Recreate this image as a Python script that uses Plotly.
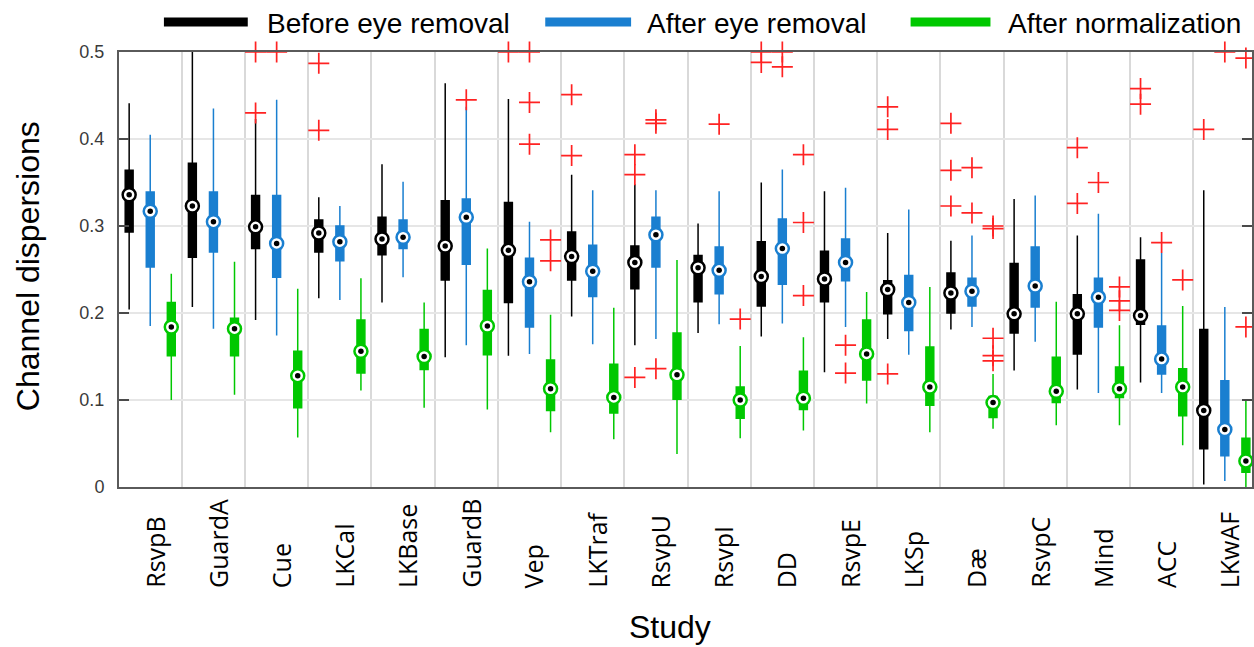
import plotly.graph_objects as go

# ---------------------------------------------------------------- data
studies = ["RsvpB", "GuardA", "Cue", "LKCal", "LKBase", "GuardB", "Vep", "LKTraf", "RsvpU",
           "RsvpI", "DD", "RsvpE", "LKSp", "Dæ", "RsvpC", "Mind", "ACC", "LKwAF"]

series_names = ["Before eye removal", "After eye removal", "After normalization"]

# Before eye removal
before_hi = [0.441, 0.500, 0.423, 0.333, 0.371, 0.464, 0.446, 0.359, 0.348, 0.303, 0.350, 0.340, 0.292, 0.283, 0.331, 0.289, 0.287, 0.341]
before_q3 = [0.364, 0.372, 0.335, 0.307, 0.310, 0.329, 0.327, 0.293, 0.277, 0.266, 0.282, 0.271, 0.237, 0.246, 0.257, 0.221, 0.261, 0.181]
before_med = [0.336, 0.323, 0.299, 0.292, 0.285, 0.277, 0.272, 0.265, 0.258, 0.252, 0.242, 0.239, 0.227, 0.223, 0.199, 0.199, 0.197, 0.088]
before_q1 = [0.293, 0.264, 0.274, 0.270, 0.267, 0.238, 0.212, 0.238, 0.228, 0.213, 0.208, 0.213, 0.199, 0.200, 0.177, 0.153, 0.187, 0.044]
before_lo = [0.204, 0.207, 0.192, 0.217, 0.212, 0.149, 0.151, 0.196, 0.163, 0.177, 0.173, 0.132, 0.170, 0.181, 0.134, 0.112, 0.120, 0.003]
before_out = [[], [], [0.500, 0.430], [0.487, 0.410], [], [], [0.500], [0.451, 0.381], [0.382, 0.359, 0.126],
              [], [0.500, 0.488], [], [0.437, 0.411, 0.130], [0.418, 0.364, 0.323], [], [0.390, 0.326],
              [0.458, 0.440], [0.411]]

# After eye removal
eye_hi = [0.405, 0.435, 0.445, 0.323, 0.351, 0.437, 0.305, 0.341, 0.341, 0.340, 0.365, 0.344, 0.319, 0.289, 0.335, 0.314, 0.269, 0.207]
eye_q3 = [0.339, 0.339, 0.335, 0.300, 0.307, 0.331, 0.263, 0.278, 0.310, 0.276, 0.308, 0.285, 0.243, 0.240, 0.276, 0.240, 0.185, 0.122]
eye_med = [0.317, 0.305, 0.280, 0.282, 0.287, 0.310, 0.236, 0.248, 0.290, 0.249, 0.274, 0.258, 0.212, 0.225, 0.231, 0.218, 0.147, 0.066]
eye_q1 = [0.253, 0.270, 0.241, 0.260, 0.274, 0.256, 0.184, 0.219, 0.253, 0.222, 0.233, 0.237, 0.180, 0.208, 0.207, 0.184, 0.130, 0.036]
eye_lo = [0.185, 0.182, 0.174, 0.215, 0.241, 0.163, 0.153, 0.164, 0.170, 0.187, 0.188, 0.184, 0.152, 0.184, 0.167, 0.108, 0.108, 0.007]
eye_out = [[], [], [0.500], [], [], [0.445], [0.500, 0.442, 0.394], [], [0.422, 0.418, 0.136],
           [0.417], [0.500, 0.483], [0.163, 0.131], [], [0.367, 0.315], [], [0.350],
           [0.281], [0.500]]

# After normalization
norm_hi = [0.245, 0.259, 0.228, 0.240, 0.212, 0.274, 0.198, 0.206, 0.261, 0.162, 0.172, 0.224, 0.230, 0.130, 0.213, 0.186, 0.208, 0.100]
norm_q3 = [0.212, 0.194, 0.156, 0.192, 0.181, 0.226, 0.146, 0.141, 0.177, 0.115, 0.133, 0.192, 0.161, 0.104, 0.149, 0.138, 0.136, 0.056]
norm_med = [0.184, 0.182, 0.128, 0.156, 0.150, 0.185, 0.113, 0.103, 0.129, 0.100, 0.102, 0.153, 0.115, 0.097, 0.110, 0.113, 0.115, 0.030]
norm_q1 = [0.151, 0.151, 0.091, 0.131, 0.135, 0.152, 0.088, 0.085, 0.101, 0.079, 0.089, 0.123, 0.094, 0.080, 0.097, 0.103, 0.082, 0.017]
norm_lo = [0.100, 0.106, 0.057, 0.111, 0.091, 0.089, 0.063, 0.055, 0.038, 0.056, 0.065, 0.096, 0.063, 0.067, 0.071, 0.071, 0.048, 0.000]
norm_out = [[], [], [], [], [], [], [0.284, 0.260], [], [],
            [0.193], [0.382, 0.304, 0.220], [], [], [0.300, 0.297, 0.171, 0.151, 0.145], [], [0.230, 0.214, 0.203],
            [0.238], [0.493, 0.184]]

y_ticks = [0, 0.1, 0.2, 0.3, 0.4, 0.5]
y_tick_text = ["0", "0.1", "0.2", "0.3", "0.4", "0.5"]

# ---------------------------------------------------------------- styling
colors = ["#000000", "#1a7fd0", "#00c800"]
outlier_color = "#ff2222"
offsets = [-1 / 3, 0.0, 1 / 3]

W, H = 1254, 647
ML, MR, MT, MB = 119, 0, 52, 160
PW, PH = W - ML - MR, H - MT - MB


def px_x(px):
    return (px - ML) / PW


def px_y(py):
    return (H - MB - py) / PH


stats = [
    (before_lo, before_q1, before_med, before_q3, before_hi, before_out),
    (eye_lo, eye_q1, eye_med, eye_q3, eye_hi, eye_out),
    (norm_lo, norm_q1, norm_med, norm_q3, norm_hi, norm_out),
]

fig = go.Figure()
n = len(studies)

# compact boxes: thin whisker line through a narrow filled box
for k, (lo, q1, med, q3, hi, out) in enumerate(stats):
    xs = [i + offsets[k] for i in range(n)]
    fig.add_trace(go.Box(
        x=xs, q1=q1, median=med, q3=q3, lowerfence=lo, upperfence=hi,
        boxpoints=False, width=0.125, whiskerwidth=0,
        line=dict(color=colors[k], width=1.5), fillcolor=colors[k],
        name=series_names[k], showlegend=False, hoverinfo="skip",
    ))

# outliers and median markers
for k, (lo, q1, med, q3, hi, out) in enumerate(stats):
    xs = [i + offsets[k] for i in range(n)]
    ox = [i + offsets[k] for i in range(n) for _ in out[i]]
    oy = [v for i in range(n) for v in out[i]]
    fig.add_trace(go.Scatter(
        x=ox, y=oy, mode="markers", cliponaxis=False, showlegend=False, hoverinfo="skip",
        marker=dict(symbol="cross-thin", size=15, line=dict(color=outlier_color, width=1.7)),
    ))
    fig.add_trace(go.Scatter(
        x=xs, y=med, mode="markers", cliponaxis=False, showlegend=False, hoverinfo="skip",
        marker=dict(symbol="circle", size=13, color="white", line=dict(color=colors[k], width=2.5)),
    ))
    fig.add_trace(go.Scatter(
        x=xs, y=med, mode="markers", cliponaxis=False, showlegend=False, hoverinfo="skip",
        marker=dict(symbol="circle", size=5.5, color="black", line=dict(width=0)),
    ))

# ---------------------------------------------------------------- legend (drawn by hand)
legend_items = [(164, 248, 265), (546, 632, 646), (912, 992, 1008)]
shapes = []
annotations = []
for k, (x0, x1, xt) in enumerate(legend_items):
    shapes.append(dict(type="line", xref="paper", yref="paper",
                       x0=px_x(x0), x1=px_x(x1), y0=px_y(22), y1=px_y(22),
                       line=dict(color=colors[k], width=9)))
    annotations.append(dict(text=series_names[k], xref="paper", yref="paper",
                            x=px_x(xt), y=px_y(23), xanchor="left", yanchor="middle",
                            showarrow=False, font=dict(family="Arial, Liberation Sans", size=28, color="black")))

# study names, rotated and aligned at their start
for i, name in enumerate(studies):
    annotations.append(dict(text=name, xref="x", yref="paper", x=i, xshift=4,
                            y=px_y(590), yanchor="bottom", xanchor="center", textangle=-90,
                            showarrow=False, font=dict(family="Open Sans", size=25, color="black")))

# axis titles
annotations.append(dict(text="Study", xref="paper", yref="paper", x=px_x(671), y=px_y(627),
                        xanchor="center", yanchor="middle", showarrow=False,
                        font=dict(family="Arial, Liberation Sans", size=32, color="black")))
annotations.append(dict(text="Channel dispersions", xref="paper", yref="paper", x=px_x(28), y=px_y(266),
                        xanchor="center", yanchor="middle", textangle=-90, showarrow=False,
                        font=dict(family="Arial, Liberation Sans", size=32, color="black")))

fig.update_layout(
    width=W, height=H,
    margin=dict(l=ML, r=MR, t=MT, b=MB, pad=0),
    paper_bgcolor="white", plot_bgcolor="white",
    boxmode="overlay",
    shapes=shapes, annotations=annotations,
    showlegend=False,
)

fig.update_xaxes(
    range=[-0.494, 17.43],
    tickvals=[i + 0.5 for i in range(n - 1)],
    showticklabels=False, ticks="",
    showgrid=True, gridcolor="#d9d9d9", gridwidth=2,
    showline=True, linecolor="#5a5a5a", linewidth=2, mirror=True,
    zeroline=False, fixedrange=True,
)
fig.update_yaxes(
    range=[0, 0.5],
    tickvals=y_ticks, ticktext=y_tick_text,
    ticks="inside", ticklen=10, tickwidth=1.5, tickcolor="#4a4a4a",
    ticklabelstandoff=9,
    tickfont=dict(family="Arial, Liberation Sans", size=18, color="#3a3a3a"),
    showgrid=True, gridcolor="#e6e6e6", gridwidth=1.5,
    showline=True, linecolor="#5a5a5a", linewidth=2, mirror="ticks",
    zeroline=False, fixedrange=True,
)

fig.write_html("out.html")
